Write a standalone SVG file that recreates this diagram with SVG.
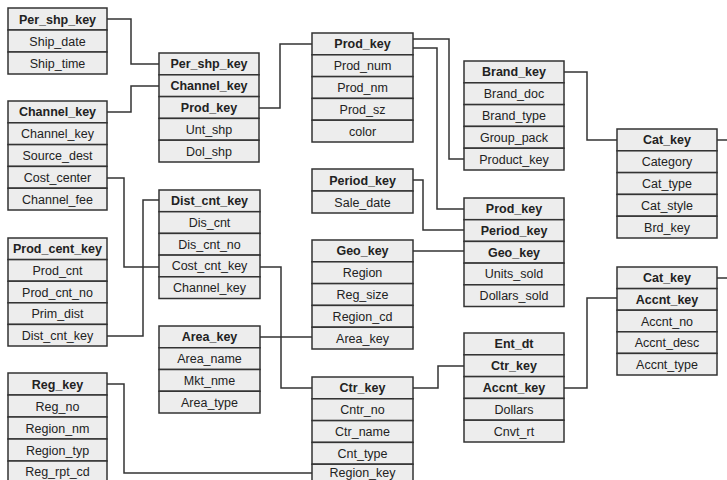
<svg xmlns="http://www.w3.org/2000/svg" width="727" height="480" viewBox="0 0 727 480">
<style>
.c{fill:#ededed;stroke:#333;stroke-width:1.5}
.t{font-family:"Liberation Sans",Arial,sans-serif;font-size:12.5px;fill:#222;text-anchor:middle}
.b{font-weight:bold}
.k{fill:none;stroke:#333;stroke-width:1.5}
</style>
<rect width="727" height="480" fill="#fff"/>
<g id="connectors" class="k">
<path d="M107,19 H131 V64 H159"/>
<path d="M107,112 H131 V86 H159"/>
<path d="M259,108 H280 V44 H312"/>
<path d="M413,39 H449 V159 H464"/>
<path d="M413,48 H437 V209 H464"/>
<path d="M564,72 H587 V140 H617"/>
<path d="M717,140 H727"/>
<path d="M413,180 H423 V230 H464"/>
<path d="M413,251 H464"/>
<path d="M107,178 H124 V267 H159"/>
<path d="M159,200 H143 V336 H107"/>
<path d="M260,267 H281 V388 H312"/>
<path d="M260,337 H312"/>
<path d="M107,384 H124 V473 H312"/>
<path d="M413,388 H438 V366 H464"/>
<path d="M564,388 H587 V298 H617"/>
<path d="M717,278 H727"/>
</g>
<g id="per_shp">
<rect class="c" x="8" y="8" width="99" height="22"/><text class="t b" x="57.5" y="23.5">Per_shp_key</text>
<rect class="c" x="8" y="30" width="99" height="22"/><text class="t" x="57.5" y="45.5">Ship_date</text>
<rect class="c" x="8" y="52" width="99" height="22"/><text class="t" x="57.5" y="67.5">Ship_time</text>
</g>
<g id="channel">
<rect class="c" x="8" y="101" width="99" height="21.8"/><text class="t b" x="57.5" y="116.4">Channel_key</text>
<rect class="c" x="8" y="122.8" width="99" height="21.8"/><text class="t" x="57.5" y="138.2">Channel_key</text>
<rect class="c" x="8" y="144.6" width="99" height="21.8"/><text class="t" x="57.5" y="160">Source_dest</text>
<rect class="c" x="8" y="166.4" width="99" height="21.8"/><text class="t" x="57.5" y="181.8">Cost_center</text>
<rect class="c" x="8" y="188.2" width="99" height="21.8"/><text class="t" x="57.5" y="203.6">Channel_fee</text>
</g>
<g id="prod_cent">
<rect class="c" x="8" y="238" width="99" height="21.6"/><text class="t b" x="57.5" y="253.3">Prod_cent_key</text>
<rect class="c" x="8" y="259.6" width="99" height="21.6"/><text class="t" x="57.5" y="274.9">Prod_cnt</text>
<rect class="c" x="8" y="281.2" width="99" height="21.6"/><text class="t" x="57.5" y="296.5">Prod_cnt_no</text>
<rect class="c" x="8" y="302.8" width="99" height="21.6"/><text class="t" x="57.5" y="318.1">Prim_dist</text>
<rect class="c" x="8" y="324.4" width="99" height="21.6"/><text class="t" x="57.5" y="339.7">Dist_cnt_key</text>
</g>
<g id="reg">
<rect class="c" x="8" y="373" width="99" height="22"/><text class="t b" x="57.5" y="388.5">Reg_key</text>
<rect class="c" x="8" y="395" width="99" height="22"/><text class="t" x="57.5" y="410.5">Reg_no</text>
<rect class="c" x="8" y="417" width="99" height="22"/><text class="t" x="57.5" y="432.5">Region_nm</text>
<rect class="c" x="8" y="439" width="99" height="22"/><text class="t" x="57.5" y="454.5">Region_typ</text>
<rect class="c" x="8" y="461" width="99" height="22"/><text class="t" x="57.5" y="476">Reg_rpt_cd</text>
</g>
<g id="shipment">
<rect class="c" x="159" y="53" width="100" height="21.8"/><text class="t b" x="209" y="68.4">Per_shp_key</text>
<rect class="c" x="159" y="74.8" width="100" height="21.8"/><text class="t b" x="209" y="90.2">Channel_key</text>
<rect class="c" x="159" y="96.6" width="100" height="21.8"/><text class="t b" x="209" y="112">Prod_key</text>
<rect class="c" x="159" y="118.4" width="100" height="21.8"/><text class="t" x="209" y="133.8">Unt_shp</text>
<rect class="c" x="159" y="140.2" width="100" height="21.8"/><text class="t" x="209" y="155.6">Dol_shp</text>
</g>
<g id="dist">
<rect class="c" x="159" y="190" width="101" height="21.7"/><text class="t b" x="209.5" y="205.3">Dist_cnt_key</text>
<rect class="c" x="159" y="211.7" width="101" height="21.7"/><text class="t" x="209.5" y="227">Dis_cnt</text>
<rect class="c" x="159" y="233.4" width="101" height="21.7"/><text class="t" x="209.5" y="248.7">Dis_cnt_no</text>
<rect class="c" x="159" y="255.1" width="101" height="21.7"/><text class="t" x="209.5" y="270.4">Cost_cnt_key</text>
<rect class="c" x="159" y="276.8" width="101" height="21.7"/><text class="t" x="209.5" y="292.1">Channel_key</text>
</g>
<g id="area">
<rect class="c" x="159" y="326" width="101" height="21.75"/><text class="t b" x="209.5" y="341.3">Area_key</text>
<rect class="c" x="159" y="347.75" width="101" height="21.75"/><text class="t" x="209.5" y="363">Area_name</text>
<rect class="c" x="159" y="369.5" width="101" height="21.75"/><text class="t" x="209.5" y="384.8">Mkt_nme</text>
<rect class="c" x="159" y="391.25" width="101" height="21.75"/><text class="t" x="209.5" y="406.5">Area_type</text>
</g>
<g id="prod">
<rect class="c" x="312" y="33" width="101" height="21.8"/><text class="t b" x="362.5" y="48.4">Prod_key</text>
<rect class="c" x="312" y="54.8" width="101" height="21.8"/><text class="t" x="362.5" y="70.2">Prod_num</text>
<rect class="c" x="312" y="76.6" width="101" height="21.8"/><text class="t" x="362.5" y="92">Prod_nm</text>
<rect class="c" x="312" y="98.4" width="101" height="21.8"/><text class="t" x="362.5" y="113.8">Prod_sz</text>
<rect class="c" x="312" y="120.2" width="101" height="21.8"/><text class="t" x="362.5" y="135.6">color</text>
</g>
<g id="period">
<rect class="c" x="312" y="169" width="101" height="22"/><text class="t b" x="362.5" y="184.5">Period_key</text>
<rect class="c" x="312" y="191" width="101" height="22"/><text class="t" x="362.5" y="206.5">Sale_date</text>
</g>
<g id="geo">
<rect class="c" x="312" y="240" width="101" height="21.8"/><text class="t b" x="362.5" y="255.4">Geo_key</text>
<rect class="c" x="312" y="261.8" width="101" height="21.8"/><text class="t" x="362.5" y="277.2">Region</text>
<rect class="c" x="312" y="283.6" width="101" height="21.8"/><text class="t" x="362.5" y="299">Reg_size</text>
<rect class="c" x="312" y="305.4" width="101" height="21.8"/><text class="t" x="362.5" y="320.8">Region_cd</text>
<rect class="c" x="312" y="327.2" width="101" height="21.8"/><text class="t" x="362.5" y="342.6">Area_key</text>
</g>
<g id="ctr">
<rect class="c" x="312" y="377" width="101" height="21.8"/><text class="t b" x="362.5" y="392.4">Ctr_key</text>
<rect class="c" x="312" y="398.8" width="101" height="21.8"/><text class="t" x="362.5" y="414.2">Cntr_no</text>
<rect class="c" x="312" y="420.6" width="101" height="21.8"/><text class="t" x="362.5" y="436">Ctr_name</text>
<rect class="c" x="312" y="442.4" width="101" height="21.8"/><text class="t" x="362.5" y="457.8">Cnt_type</text>
<rect class="c" x="312" y="464.2" width="101" height="21.8"/><text class="t" x="362.5" y="476.5">Region_key</text>
</g>
<g id="brand">
<rect class="c" x="464" y="61" width="100" height="21.8"/><text class="t b" x="514" y="76.4">Brand_key</text>
<rect class="c" x="464" y="82.8" width="100" height="21.8"/><text class="t" x="514" y="98.2">Brand_doc</text>
<rect class="c" x="464" y="104.6" width="100" height="21.8"/><text class="t" x="514" y="120">Brand_type</text>
<rect class="c" x="464" y="126.4" width="100" height="21.8"/><text class="t" x="514" y="141.8">Group_pack</text>
<rect class="c" x="464" y="148.2" width="100" height="21.8"/><text class="t" x="514" y="163.6">Product_key</text>
</g>
<g id="sales">
<rect class="c" x="464" y="198" width="100" height="21.7"/><text class="t b" x="514" y="213.3">Prod_key</text>
<rect class="c" x="464" y="219.7" width="100" height="21.7"/><text class="t b" x="514" y="235">Period_key</text>
<rect class="c" x="464" y="241.4" width="100" height="21.7"/><text class="t b" x="514" y="256.7">Geo_key</text>
<rect class="c" x="464" y="263.1" width="100" height="21.7"/><text class="t" x="514" y="278.4">Units_sold</text>
<rect class="c" x="464" y="284.8" width="100" height="21.7"/><text class="t" x="514" y="300.1">Dollars_sold</text>
</g>
<g id="ent">
<rect class="c" x="464" y="333" width="100" height="21.8"/><text class="t b" x="514" y="348.4">Ent_dt</text>
<rect class="c" x="464" y="354.8" width="100" height="21.8"/><text class="t b" x="514" y="370.2">Ctr_key</text>
<rect class="c" x="464" y="376.6" width="100" height="21.8"/><text class="t b" x="514" y="392">Accnt_key</text>
<rect class="c" x="464" y="398.4" width="100" height="21.8"/><text class="t" x="514" y="413.8">Dollars</text>
<rect class="c" x="464" y="420.2" width="100" height="21.8"/><text class="t" x="514" y="435.6">Cnvt_rt</text>
</g>
<g id="cat">
<rect class="c" x="617" y="129" width="100" height="21.8"/><text class="t b" x="667" y="144.4">Cat_key</text>
<rect class="c" x="617" y="150.8" width="100" height="21.8"/><text class="t" x="667" y="166.2">Category</text>
<rect class="c" x="617" y="172.6" width="100" height="21.8"/><text class="t" x="667" y="188">Cat_type</text>
<rect class="c" x="617" y="194.4" width="100" height="21.8"/><text class="t" x="667" y="209.8">Cat_style</text>
<rect class="c" x="617" y="216.2" width="100" height="21.8"/><text class="t" x="667" y="231.6">Brd_key</text>
</g>
<g id="accnt">
<rect class="c" x="617" y="267" width="100" height="21.6"/><text class="t b" x="667" y="282.3">Cat_key</text>
<rect class="c" x="617" y="288.6" width="100" height="21.6"/><text class="t b" x="667" y="303.9">Accnt_key</text>
<rect class="c" x="617" y="310.2" width="100" height="21.6"/><text class="t" x="667" y="325.5">Accnt_no</text>
<rect class="c" x="617" y="331.8" width="100" height="21.6"/><text class="t" x="667" y="347.1">Accnt_desc</text>
<rect class="c" x="617" y="353.4" width="100" height="21.6"/><text class="t" x="667" y="368.7">Accnt_type</text>
</g>
</svg>
